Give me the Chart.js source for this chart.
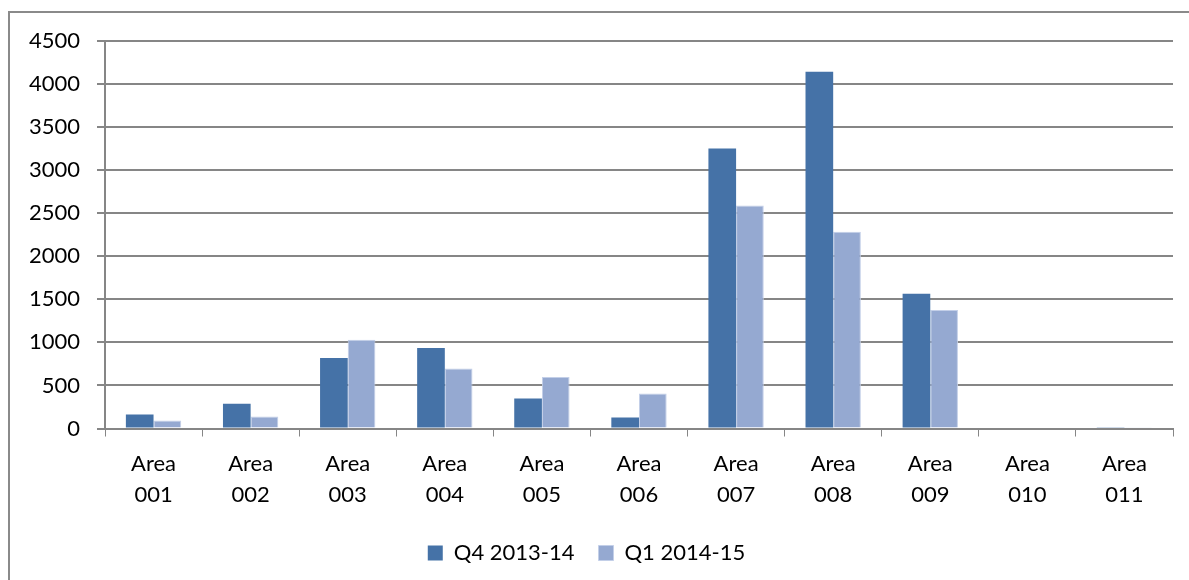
<!DOCTYPE html>
<html>
<head>
<meta charset="utf-8">
<script src="https://cdn.jsdelivr.net/npm/chart.js@4"></script>
<style>
  html, body { margin: 0; padding: 0; background: #fff; overflow: hidden; }
  #frame { position: absolute; left: 8px; top: 11px; width: 1200px; height: 600px; border: 2px solid #8a8a8a; }
  #wrap { position: absolute; left: 0; top: 0; width: 1189px; height: 580px; }
</style>
</head>
<body>
<div id="frame"></div>
<div id="wrap"><canvas id="chart"></canvas></div>
<script>
const areas = ['001', '002', '003', '004', '005', '006', '007', '008', '009', '010', '011'];
const q4_2013 = [163, 288, 820, 934, 350, 128, 3252, 4143, 1564, 0, 10];
const q1_2014 = [93, 140, 1030, 697, 599, 408, 2591, 2284, 1377, 0, 8];
const seriesNames = ['Q4 2013-14', 'Q1 2014-15'];

const FONT = 'Lato, "Open Sans", sans-serif';

const config = {
    type: 'bar',
    data: {
        labels: areas.map(a => ['Area', a]),
        datasets: [{
            label: seriesNames[0],
            backgroundColor: '#4572a7',
            data: q4_2013,
        }, {
            label: seriesNames[1],
            backgroundColor: '#95a9d1',
            borderColor: '#c3cfe8',
            borderWidth: 1,
            data: q1_2014,
        }]
    },
    options: {
        responsive: true,
        maintainAspectRatio: false,
        animation: false,
        layout: { padding: { top: 41, right: 16, bottom: 6, left: 0 } },
        datasets: { bar: { categoryPercentage: 0.57, barPercentage: 1.0 } },
        scales: {
            x: {
                afterFit: s => { s.height -= 5; },
                grid: { drawOnChartArea: false, drawTicks: true, tickLength: 8, color: '#868686', offset: true },
                border: { color: '#868686', width: 2 },
                ticks: { color: '#000', font: { family: FONT, size: 22, lineHeight: 1.42 }, padding: 12, maxRotation: 0 },
            },
            y: {
                min: 0,
                max: 4500,
                afterFit: s => { s.width = 105; },
                grid: { color: '#868686', lineWidth: 2, tickLength: 8 },
                border: { color: '#868686', width: 2 },
                ticks: {
                    stepSize: 500, color: '#000', padding: 17,
                    font: { family: FONT, size: 22 },
                    callback: v => String(v)
                },
            }
        },
        plugins: {
            legend: {
                position: 'bottom',
                labels: { boxWidth: 15, boxHeight: 15, color: '#000', padding: 24, font: { family: FONT, size: 22 } }
            },
            tooltip: { enabled: false }
        }
    }
};

new Chart(document.getElementById('chart'), config);
</script>
</body>
</html>
